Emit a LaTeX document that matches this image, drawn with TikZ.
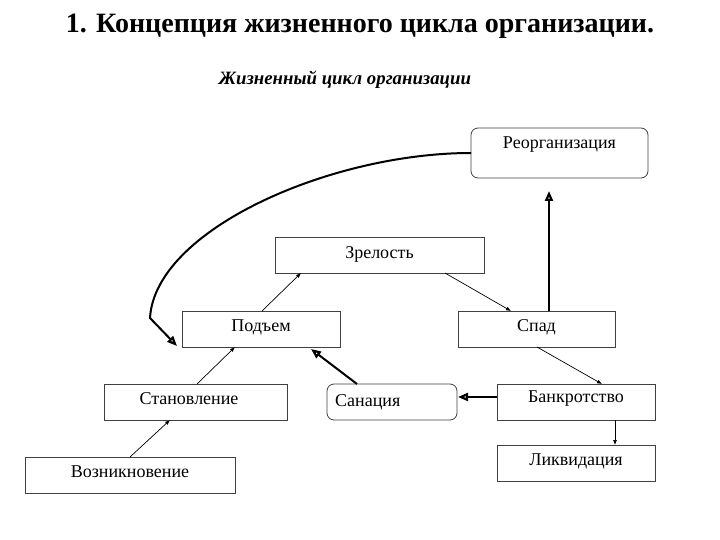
\documentclass[tikz,border=0pt]{standalone}
\usepackage{fontspec}
\setmainfont{Liberation Serif}
\usetikzlibrary{arrows.meta}
\tikzset{
  box/.style={draw=black!75, line width=0.8pt, inner sep=0pt},
  rbox/.style={box, rounded corners=7pt},
  lbl/.style={inner sep=0pt, font=\fontsize{18}{21}\selectfont},
  thin arrow/.style={line width=0.7pt, -{Latex[length=5pt,width=4pt]}},
  thick arrow/.style={line width=2pt, -{Triangle[open,length=10pt,width=8pt,line width=2.2pt]}},
}
\begin{document}
\begin{tikzpicture}[x=1pt,y=-1pt]
\useasboundingbox (0,0) rectangle (720,540);
\node[font=\bfseries\fontsize{28}{32}\selectfont] (title) at (360,26) {1. Концепция жизненного цикла организации.};
\node[font=\bfseries\itshape\fontsize{18.8}{22}\selectfont] (sub) at (345,80) {Жизненный цикл организации};

\node[rbox, minimum width=177pt, minimum height=50pt] (reorg) at (559.5,153) {};
\node[lbl] (reorgt) at (559.5,145) {Реорганизация};
\node[box, minimum width=209pt, minimum height=36pt] (zrel) at (379.5,255) {};
\node[lbl] (zrelt) at (379.5,254) {Зрелость};
\node[box, minimum width=158pt, minimum height=36pt] (podem) at (261,329) {};
\node[lbl] (podemt) at (261,327) {Подъем};
\node[box, minimum width=157pt, minimum height=36pt] (spad) at (536.5,329) {};
\node[lbl] (spadt) at (536.5,327) {Спад};
\node[box, minimum width=183pt, minimum height=36pt] (stan) at (195.5,402) {};
\node[lbl] (stant) at (189,399) {Становление};
\node[rbox, minimum width=130pt, minimum height=36pt] (san) at (392,402) {};
\node[lbl, anchor=west] (sant) at (335,402) {Санация};
\node[box, minimum width=158pt, minimum height=36pt] (bank) at (576,402) {};
\node[lbl] (bankt) at (576,399) {Банкротство};
\node[box, minimum width=158pt, minimum height=36pt] (likv) at (576,463) {};
\node[lbl] (likvt) at (576,461) {Ликвидация};
\node[box, minimum width=210pt, minimum height=36pt] (vozn) at (130,475) {};
\node[lbl] (voznt) at (130,472) {Возникновение};

\coordinate (c1a) at (130,457); \coordinate (c1b) at (170,420);
\draw[thin arrow] (c1a) -- (c1b);
\coordinate (c2a) at (197,384); \coordinate (c2b) at (235,347);
\draw[thin arrow] (c2a) -- (c2b);
\coordinate (c3a) at (262,311); \coordinate (c3b) at (301,273);
\draw[thin arrow] (c3a) -- (c3b);
\coordinate (c4a) at (445,273); \coordinate (c4b) at (511,311);
\draw[thin arrow] (c4a) -- (c4b);
\coordinate (c5a) at (537,347); \coordinate (c5b) at (602,384);
\draw[thin arrow] (c5a) -- (c5b);
\coordinate (c6a) at (615,420); \coordinate (c6b) at (615,445);
\draw[thin arrow] (c6a) -- (c6b);

\coordinate (t1a) at (549,311); \coordinate (t1b) at (549,191);
\draw[thick arrow] (t1a) -- (t1b);
\coordinate (t2a) at (497,397); \coordinate (t2b) at (458,397);
\draw[thick arrow] (t2a) -- (t2b);
\coordinate (t3a) at (357,384); \coordinate (t3b) at (311,349);
\draw[thick arrow] (t3a) -- (t3b);
\coordinate (t4a) at (471,153); \coordinate (t4k) at (150,318); \coordinate (t4b) at (177,346);
\draw[thick arrow] (t4a) .. controls (330,153) and (155,230) .. (t4k) -- (t4b);
\end{tikzpicture}
\end{document}
